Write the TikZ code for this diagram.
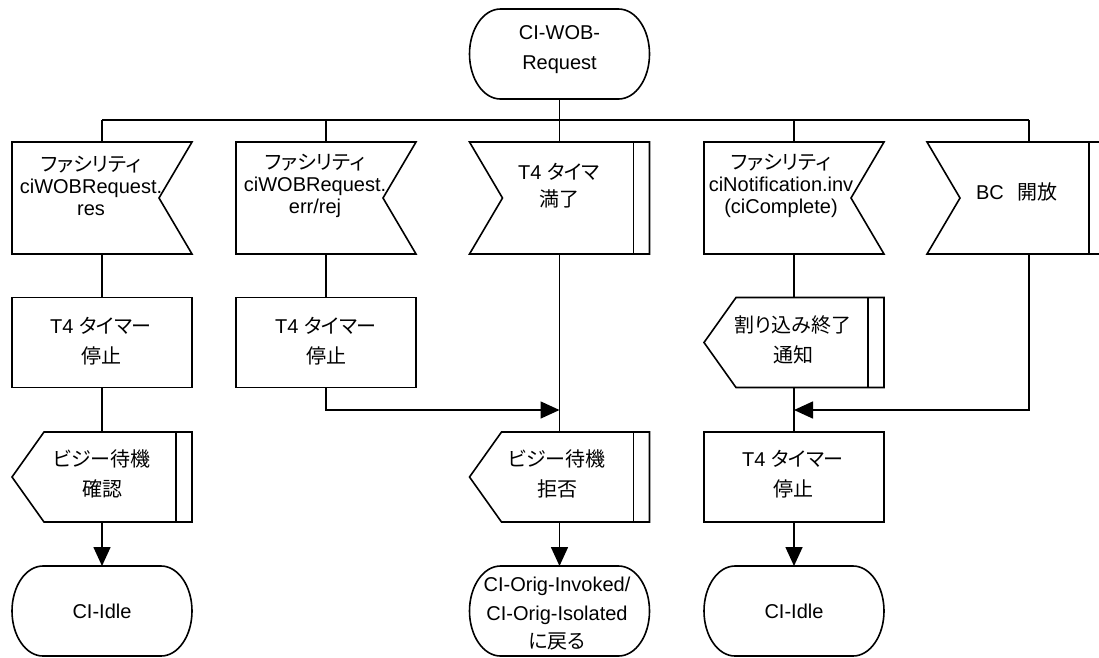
\documentclass[tikz,border=0pt]{standalone}
\usepackage{fontspec}
\setmainfont{Liberation Sans}
\newfontfamily\jpfont{Noto Sans CJK JP}[RawFeature=+palt]
\usetikzlibrary{arrows.meta}

\newcommand\jtxt[1]{{\jpfont #1}}

% SDL symbol outlines, drawn around an invisible frame node
\newcommand\sdlInputR[1]{% input: notch on the right
  \draw[sdlline] (#1.north west) -- (#1.north east) -- ([xshift=-33pt]#1.east)
    -- (#1.south east) -- (#1.south west) -- cycle;}
\newcommand\sdlInputL[1]{% input: notch on the left, bar on the right
  \draw[sdlline] (#1.north west) -- (#1.north east) -- (#1.south east)
    -- (#1.south west) -- ([xshift=33pt]#1.west) -- cycle;
  \draw[sdlline] ([xshift=-16pt]#1.north east) -- ([xshift=-16pt]#1.south east);}
\newcommand\sdlOutputL[1]{% output: point on the left, bar on the right
  \draw[sdlline] ([xshift=32pt]#1.north west) -- (#1.north east) -- (#1.south east)
    -- ([xshift=32pt]#1.south west) -- (#1.west) -- cycle;
  \draw[sdlline] ([xshift=-16pt]#1.north east) -- ([xshift=-16pt]#1.south east);}
\newcommand\sdlTask[1]{\draw[sdlline] (#1.north west) rectangle (#1.south east);}
\newcommand\sdlState[1]{%
  \draw[sdlline] ([xshift=31pt]#1.north west) -- ([xshift=-31pt]#1.north east)
    arc[start angle=90, end angle=-90, x radius=31pt, y radius=45pt]
    -- ([xshift=31pt]#1.south west)
    arc[start angle=270, end angle=90, x radius=31pt, y radius=45pt] -- cycle;}

\begin{document}
\begin{tikzpicture}[x=1pt, y=-1pt,
  sdlline/.style={line width=1.6pt, line join=miter},
  sdlbox/.style n args={2}{minimum width=#1, minimum height=#2,
    inner sep=0pt, outer sep=0pt, draw=none},
  flow/.style={line width=1.6pt},
  arr/.style={flow, -{Triangle[length=19pt, width=17pt]}},
  lbl/.style={align=center, inner sep=0pt, font=\fontsize{20}{#1}\selectfont},
  lbl/.default=30,
]
\useasboundingbox (0,0) rectangle (1099,657);
\clip (0,0) rectangle (1099,657);

% ---- symbol frames ----
\node[sdlbox={180pt}{90pt}]  (s0) at (559.5,54) {};

\node[sdlbox={180pt}{112pt}] (i1) at (102,198) {};
\node[sdlbox={180pt}{112pt}] (i2) at (326,198) {};
\node[sdlbox={180pt}{112pt}] (i3) at (559.5,198) {};
\node[sdlbox={180pt}{112pt}] (i4) at (794,198) {};
\node[sdlbox={178pt}{112pt}] (i5) at (1016,198) {};

\node[sdlbox={180pt}{90pt}]  (t1) at (102,342.5) {};
\node[sdlbox={180pt}{90pt}]  (t2) at (326,342.5) {};
\node[sdlbox={180pt}{90pt}]  (o4) at (794,342.5) {};

\node[sdlbox={180pt}{90pt}]  (o1) at (102,477) {};
\node[sdlbox={180pt}{90pt}]  (o3) at (559.5,477) {};
\node[sdlbox={180pt}{90pt}]  (t4) at (794,477) {};

\node[sdlbox={180pt}{90pt}]  (s1) at (102,611) {};
\node[sdlbox={180pt}{90pt}]  (s3) at (559.5,611) {};
\node[sdlbox={180pt}{90pt}]  (s4) at (794,611) {};

% ---- outlines ----
\sdlState{s0}
\sdlInputR{i1} \sdlInputR{i2} \sdlInputL{i3} \sdlInputR{i4} \sdlInputL{i5}
\sdlTask{t1} \sdlTask{t2} \sdlOutputL{o4}
\sdlOutputL{o1} \sdlOutputL{o3} \sdlTask{t4}
\sdlState{s1} \sdlState{s3} \sdlState{s4}

% ---- labels ----
\node[lbl] (s0t) at (559.5,50) {CI-WOB-\\Request};
\node[lbl=22] (i1t) at (91,186) {\jtxt{ファシリティ}\\ciWOBRequest.\\res};
\node[lbl=22] (i2t) at (315,186) {\jtxt{ファシリティ}\\ciWOBRequest.\\err/rej};
\node[lbl=27] (i3t) at (559,186) {T4 \jtxt{タイマ}\\\jtxt{満了}};
\node[lbl=22] (i4t) at (781,186) {\jtxt{ファシリティ}\\ciNotification.inv\\(ciComplete)};
\node[lbl] (i5t) at (1017,192) {BC\hspace{14pt}\jtxt{開放}};

\node[lbl] (t1t) at (101,341) {T4 \jtxt{タイマー}\\\jtxt{停止}};
\node[lbl] (t2t) at (326,341) {T4 \jtxt{タイマー}\\\jtxt{停止}};
\node[lbl] (o4t) at (793,340) {\jtxt{割り込み終了}\\\jtxt{通知}};

\node[lbl] (o1t) at (102,474) {\jtxt{ビジー待機}\\\jtxt{確認}};
\node[lbl] (o3t) at (557,474) {\jtxt{ビジー待機}\\\jtxt{拒否}};
\node[lbl] (t4t) at (793,474) {T4 \jtxt{タイマー}\\\jtxt{停止}};

\node[lbl] (s1t) at (102,611) {CI-Idle};
\node[lbl=28.5] (s3t) at (557,614) {CI-Orig-Invoked/\\CI-Orig-Isolated\\\jtxt{に戻る}};
\node[lbl] (s4t) at (794,611) {CI-Idle};

% ---- connectors ----
\coordinate (busR) at (1029,120);
\coordinate (m3) at (559.5,410);
\coordinate (m4) at (794,410);

\draw[flow] (s0.south) -- (s0.south |- busR);
\draw[flow] (i1.north |- busR) -- (busR);
\draw[flow] (i1.north |- busR) -- (i1.north);
\draw[flow] (i2.north |- busR) -- (i2.north);
\draw[flow] (i3.north |- busR) -- (i3.north);
\draw[flow] (i4.north |- busR) -- (i4.north);
\draw[flow] (busR) -- (busR |- i5.north);

% column 1
\draw[flow] (i1.south) -- (t1.north);
\draw[flow] (t1.south) -- (o1.north);
\draw[arr]  (o1.south) -- (s1.north);
% column 2
\draw[flow] (i2.south) -- (t2.north);
\draw[arr]  (t2.south) |- (m3);
% column 3
\draw[flow] (i3.south) -- (o3.north);
\draw[arr]  (o3.south) -- (s3.north);
% column 4
\draw[flow] (i4.south) -- (o4.north);
\draw[flow] (o4.south) -- (t4.north);
\draw[arr]  (t4.south) -- (s4.north);
% column 5
\draw[arr]  (busR |- i5.south) |- (m4);
\end{tikzpicture}
\end{document}
